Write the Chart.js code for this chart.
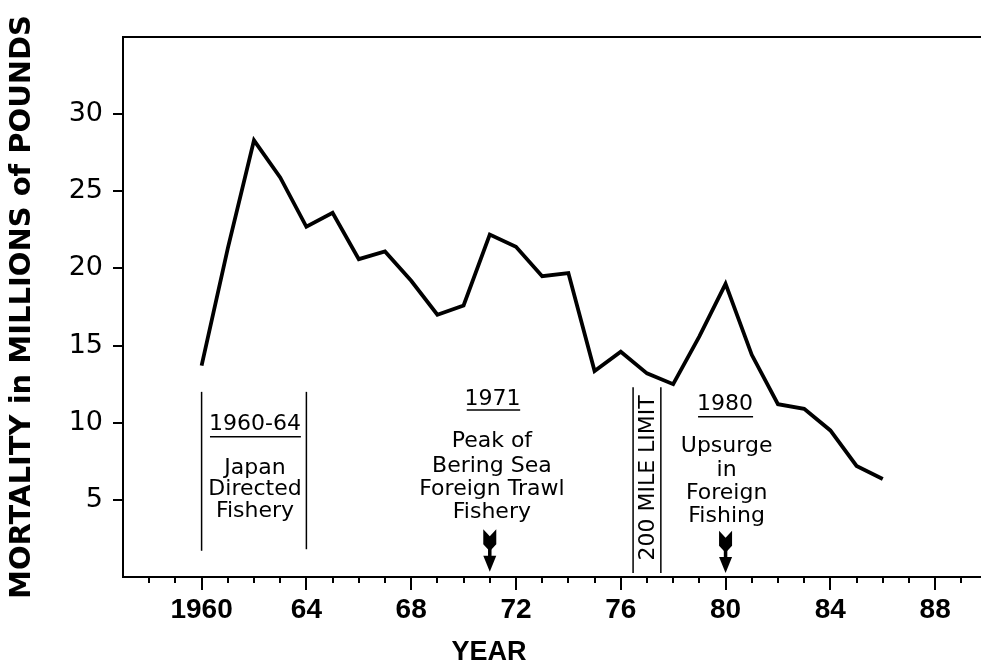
<!DOCTYPE html>
<html><head><meta charset="utf-8">
<script src="https://cdn.jsdelivr.net/npm/chart.js@4.4.1/dist/chart.umd.min.js"></script>
<style>html,body{margin:0;padding:0;background:#fff;}canvas{display:block;}</style>
</head><body>
<canvas id="c" width="981" height="668" style="width:981px;height:668px"></canvas>
<script>
// ---- data ----
const years = [1960,1961,1962,1963,1964,1965,1966,1967,1968,1969,1970,1971,1972,1973,1974,1975,1976,1977,1978,1979,1980,1981,1982,1983,1984,1985,1986];
const mortality = [13.7,21.3,28.3,25.9,22.7,23.6,20.6,21.1,19.2,17.0,17.6,22.2,21.4,19.5,19.7,13.35,14.6,13.2,12.5,15.6,19.0,14.4,11.2,10.9,9.5,7.2,6.35];
const yTickValues = [5,10,15,20,25,30];
const xMinorYears = [1958,1959,1960,1961,1962,1963,1964,1965,1966,1967,1968,1969,1970,1971,1972,1973,1974,1975,1976,1977,1978,1979,1980,1981,1982,1983,1984,1985,1986,1987,1988,1989];
const xMajorYears = [1960,1964,1968,1972,1976,1980,1984,1988];
const xTickLabels = ['1960','64','68','72','76','80','84','88'];
const yTitle = 'MORTALITY in MILLIONS of POUNDS';
const xTitle = 'YEAR';

// annotations, in data units (year, value)
const bracketLines = [ {x:1960, y1:12.0, y2:1.7}, {x:1964, y1:12.0, y2:1.8}, {x:1976.47, y1:12.3, y2:0.26}, {x:1977.53, y1:12.3, y2:0.26} ];
const noteTexts = [
  {t:'1960-64', x:1962.04, y:9.53},
  {t:'Japan', x:1962.04, y:6.68},
  {t:'Directed', x:1962.04, y:5.31},
  {t:'Fishery', x:1962.04, y:3.91},
  {t:'1971', x:1971.1, y:11.15},
  {t:'Peak of', x:1971.08, y:8.41},
  {t:'Bering Sea', x:1971.08, y:6.82},
  {t:'Foreign Trawl', x:1971.08, y:5.31},
  {t:'Fishery', x:1971.08, y:3.80},
  {t:'1980', x:1979.98, y:10.82},
  {t:'Upsurge', x:1980.04, y:8.12},
  {t:'in', x:1980.04, y:6.55},
  {t:'Foreign', x:1980.04, y:5.04},
  {t:'Fishing', x:1980.04, y:3.58}
];
const underlines = [ {x1:1960.32, x2:1963.79, y:9.09}, {x1:1970.12, x2:1972.16, y:10.82}, {x1:1978.95, x2:1981.05, y:10.39} ];
const verticalNote = {t:'200 MILE LIMIT', x:1977.0, y:6.42};
const arrows = [ {x:1971, yTop:3.1, yTip:0.34}, {x:1980, yTop:3.0, yTip:0.26} ];
const yearTitlePos = {x:1970.97, y:-5.38};

const annotPlugin = {
  id: 'annot',
  afterDraw(chart) {
    const ctx = chart.ctx, xs = chart.scales.x, ys = chart.scales.y, ca = chart.chartArea;
    const X = v => xs.getPixelForValue(v), Y = v => ys.getPixelForValue(v);
    ctx.save();
    ctx.strokeStyle = '#000'; ctx.fillStyle = '#000';
    // top border
    ctx.lineWidth = 2;
    ctx.beginPath(); ctx.moveTo(ca.left - 1, ca.top); ctx.lineTo(ca.right, ca.top); ctx.stroke();
    // x tick marks
    xMinorYears.forEach(yr => {
      const px = Math.round(X(yr));
      const len = xMajorYears.includes(yr) ? 13 : 6;
      ctx.beginPath(); ctx.moveTo(px, ca.bottom); ctx.lineTo(px, ca.bottom + len); ctx.stroke();
    });
    // bracket lines
    ctx.lineWidth = 1.5;
    bracketLines.forEach(l => { ctx.beginPath(); ctx.moveTo(X(l.x), Y(l.y1)); ctx.lineTo(X(l.x), Y(l.y2)); ctx.stroke(); });
    underlines.forEach(u => { ctx.beginPath(); ctx.moveTo(X(u.x1), Y(u.y)); ctx.lineTo(X(u.x2), Y(u.y)); ctx.stroke(); });
    // texts
    ctx.font = '22px "DejaVu Sans"';
    ctx.textAlign = 'center'; ctx.textBaseline = 'alphabetic';
    noteTexts.forEach(n => ctx.fillText(n.t, X(n.x), Y(n.y)));
    ctx.save();
    ctx.translate(X(verticalNote.x), Y(verticalNote.y));
    ctx.rotate(-Math.PI/2);
    ctx.textBaseline = 'middle';
    ctx.fillText(verticalNote.t, 0, 1);
    ctx.restore();
    // arrows
    arrows.forEach(a => {
      const x = X(a.x), top = Y(a.yTop), tip = Y(a.yTip);
      const hw = 6.5;
      ctx.beginPath();
      ctx.moveTo(x - hw, top); ctx.lineTo(x, top + 7); ctx.lineTo(x + hw, top);
      ctx.lineTo(x + hw, top + 15); ctx.lineTo(x, top + 22); ctx.lineTo(x - hw, top + 15);
      ctx.closePath(); ctx.fill();
      ctx.fillRect(x - 1.75, top + 15, 3.5, tip - top - 28);
      ctx.beginPath();
      ctx.moveTo(x - hw, tip - 16); ctx.lineTo(x + hw, tip - 16); ctx.lineTo(x, tip);
      ctx.closePath(); ctx.fill();
    });
    // x title
    ctx.font = 'bold 27px "Liberation Sans"';
    ctx.textBaseline = 'alphabetic';
    ctx.fillText(xTitle, X(yearTitlePos.x), Y(yearTitlePos.y));
    ctx.restore();
  }
};

new Chart(document.getElementById('c'), {
  type: 'line',
  data: {
    datasets: [{
      data: years.map((x, i) => ({x, y: mortality[i]})),
      borderColor: '#000',
      borderWidth: 3.8,
      borderJoinStyle: 'miter',
      pointRadius: 0,
      tension: 0,
      fill: false
    }]
  },
  options: {
    responsive: false,
    devicePixelRatio: 1,
    animation: false,
    layout: { padding: { top: 37, left: 0, right: 0, bottom: 0 } },
    plugins: { legend: { display: false }, tooltip: { enabled: false } },
    scales: {
      x: {
        type: 'linear',
        min: 1957, max: 1989.75,
        afterFit: s => { s.height = 91; },
        afterBuildTicks: s => { s.ticks = xMinorYears.map(v => ({value: v})); },
        grid: { display: false, drawTicks: false },
        border: { display: true, color: '#000', width: 2 },
        ticks: {
          autoSkip: false, maxRotation: 0, padding: 16, color: '#000',
          font: { family: 'Liberation Sans', size: 28, weight: 'bold' },
          callback: v => { const i = xMajorYears.indexOf(v); return i >= 0 ? xTickLabels[i] : ''; }
        }
      },
      y: {
        min: 0, max: 35,
        afterFit: s => { s.width = 123; },
        afterBuildTicks: s => { s.ticks = [0].concat(yTickValues).map(v => ({value: v})); },
        grid: {
          display: true, drawOnChartArea: false, drawTicks: true, tickLength: 10, lineWidth: 2,
          color: c => (c.tick && yTickValues.includes(c.tick.value)) ? '#000' : 'rgba(0,0,0,0)'
        },
        border: { display: true, color: '#000', width: 2 },
        ticks: {
          padding: 10, color: '#000',
          font: { family: 'DejaVu Sans', size: 27 },
          callback: v => yTickValues.includes(v) ? String(v) : ''
        },
        title: {
          display: true, text: yTitle, color: '#000',
          font: { family: 'DejaVu Sans', size: 29, weight: 'bold' },
          padding: { top: 5, bottom: 0 }
        }
      }
    }
  },
  plugins: [annotPlugin]
});
</script>
</body></html>
